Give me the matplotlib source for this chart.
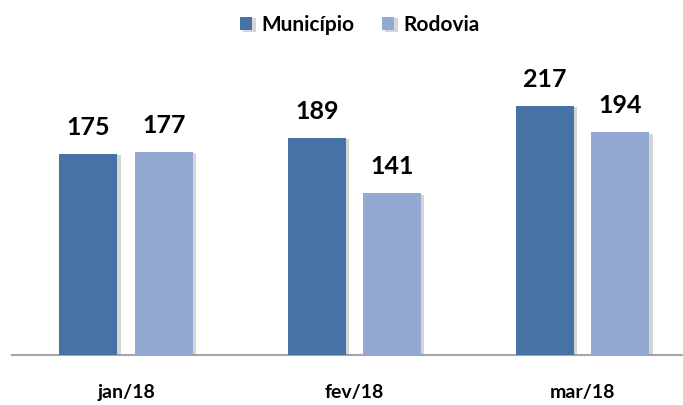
import matplotlib
matplotlib.use("Agg")
import matplotlib.pyplot as plt
import matplotlib.patheffects as pe
import numpy as np

categories = ["jan/18", "fev/18", "mar/18"]
series_names = ["Município", "Rodovia"]
municipio = [175, 189, 217]
rodovia = [177, 141, 194]
colors = ["#4672A6", "#94A9D1"]

plt.rcParams['font.family'] = ['Lato', 'DejaVu Sans']

fig = plt.figure(figsize=(6.83, 4.05), dpi=100)
ax = fig.add_axes([12/683, 50/405, 1 - 12/683, 287/405])

x = np.arange(len(categories))
w = 0.254
off = 0.165
shadow = [pe.SimplePatchShadow(offset=(2.5, -1), shadow_rgbFace='#888888', alpha=0.35), pe.Normal()]
for vals, dx, c, name in [(municipio, -off, colors[0], series_names[0]),
                          (rodovia, off, colors[1], series_names[1])]:
    bars = ax.bar(x + dx, vals, width=w, color=c, label=name, zorder=3)
    for b in bars:
        b.set_path_effects(shadow)
    for xi, v in zip(x + dx, vals):
        ax.annotate(f"{v}", (xi, v), xytext=(0, 11), textcoords="offset points",
                    ha="center", va="bottom", fontsize=18, fontweight="bold",
                    color="black")

ax.set_xlim(-0.5, 2.44)
ax.set_ylim(0, 250)
ax.set_yticks([])
ax.set_xticks(x)
ax.set_xticklabels(categories, fontsize=14, fontweight="bold")
ax.tick_params(axis='x', length=0, pad=21)
for s in ["top", "right", "left"]:
    ax.spines[s].set_visible(False)
ax.spines["bottom"].set_color("#A6A6A6")
ax.spines["bottom"].set_linewidth(1.5)

leg = fig.legend(loc="center", bbox_to_anchor=(0.527, 1 - 25/405), ncol=2,
                 frameon=False, prop={'size': 15, 'weight': 'bold'},
                 handlelength=0.6, handleheight=0.6, columnspacing=1.3, handletextpad=0.45)

fig.savefig("out.png", dpi=100)
